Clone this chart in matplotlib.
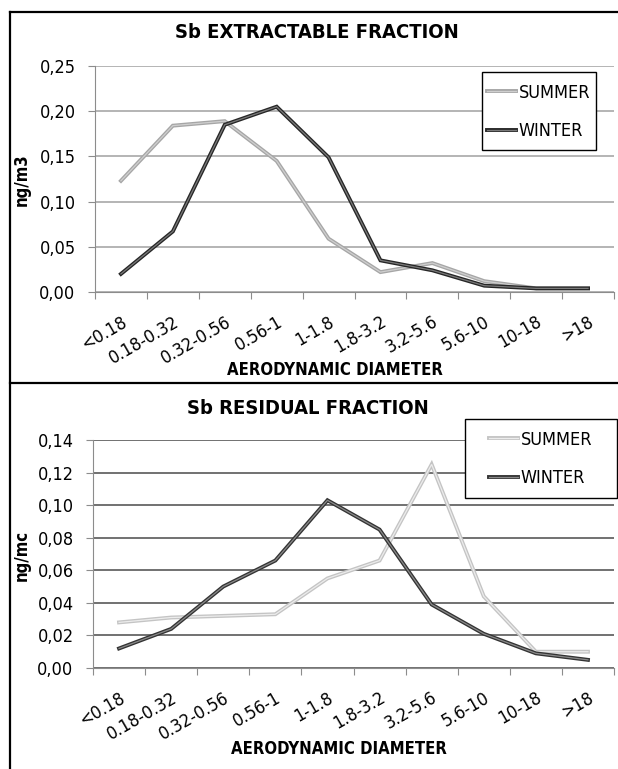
import matplotlib
matplotlib.use("Agg")
import matplotlib.pyplot as plt
import matplotlib.patheffects as pe
from matplotlib.lines import Line2D
from matplotlib.patches import Rectangle
from matplotlib.ticker import FuncFormatter, MultipleLocator

plt.rcParams['font.family'] = ['DejaVu Sans']
plt.rcParams['font.stretch'] = 'condensed'

# size classes (aerodynamic diameter, um)
categories = ['<0.18', '0.18-0.32', '0.32-0.56', '0.56-1', '1-1.8',
              '1.8-3.2', '3.2-5.6', '5.6-10', '10-18', '>18']

# Sb extractable fraction (ng/m3)
extr_summer = [0.123, 0.184, 0.189, 0.145, 0.059, 0.022, 0.032, 0.012, 0.004, 0.004]
extr_winter = [0.020, 0.067, 0.185, 0.205, 0.149, 0.035, 0.024, 0.007, 0.004, 0.004]

# Sb residual fraction (ng/mc)
res_summer = [0.028, 0.031, 0.032, 0.033, 0.055, 0.066, 0.125, 0.044, 0.010, 0.010]
res_winter = [0.012, 0.024, 0.050, 0.066, 0.103, 0.085, 0.039, 0.021, 0.009, 0.005]

W, H = 618, 769


def fx(px):
    return px / W


def fy(py):
    return 1 - py / H


def comma(v, pos):
    return ('%.2f' % v).replace('.', ',')


def draw_line(ax, values, outer, inner, label):
    x = [i + 0.5 for i in range(len(values))]
    ax.plot(x, values, color=inner, lw=0.9, label=label, solid_joinstyle='miter',
            path_effects=[pe.Stroke(linewidth=2.8, foreground=outer), pe.Normal()])


def setup_axes(ax, ymax, ystep, gridcolor):
    ax.set_xlim(0, len(categories))
    ax.set_ylim(0, ymax)
    ax.yaxis.set_major_locator(MultipleLocator(ystep))
    ax.yaxis.set_major_formatter(FuncFormatter(comma))
    ax.grid(axis='y', color=gridcolor, lw=1.1)
    ax.set_axisbelow(True)
    for s in ['top', 'right']:
        ax.spines[s].set_visible(False)
    ax.spines['left'].set_color('#8c8c8c')
    ax.spines['bottom'].set_color('#8c8c8c')
    ax.set_xticks(range(len(categories) + 1))
    ax.set_xticklabels([])
    ax.set_xticks([i + 0.5 for i in range(len(categories))], minor=True)
    ax.set_xticklabels(categories, minor=True, rotation=30, ha='right', va='top',
                       rotation_mode='anchor', fontsize=13)
    ax.tick_params(axis='x', which='major', length=5, color='#8c8c8c')
    ax.tick_params(axis='x', which='minor', length=0, pad=15)
    ax.tick_params(axis='y', length=5, color='#8c8c8c', pad=9, labelsize=13)


def add_legend(ax, box, x_left, y_center):
    # box = (left, top, right, bottom) in pixels
    l, t, r, b = box
    fig.add_artist(Rectangle((fx(l), fy(b)), (r - l) / W, (b - t) / H,
                             transform=fig.transFigure, facecolor='white',
                             edgecolor='black', lw=1.0, zorder=3))
    handles, labels = ax.get_legend_handles_labels()
    leg = fig.legend(handles, labels, loc='center left',
                     bbox_to_anchor=(fx(x_left), fy(y_center)),
                     frameon=False, fontsize=13, handlelength=1.6,
                     handletextpad=0.15, labelspacing=1.15,
                     borderpad=0, borderaxespad=0)
    leg.set_zorder(4)
    return leg


fig = plt.figure(figsize=(W / 100, H / 100), dpi=100)

# panel frames
for xs, ys in [([fx(10), 1], [fy(12), fy(12)]),
               ([fx(10), fx(10)], [fy(12), 0]),
               ([fx(10), 1], [fy(383), fy(383)])]:
    fig.add_artist(Line2D(xs, ys, transform=fig.transFigure, color='black', lw=1.6))

# top: extractable fraction
ax1 = fig.add_axes([fx(95), fy(292), (614 - 95) / W, (292 - 66) / H])
setup_axes(ax1, 0.25, 0.05, '#a0a0a0')
draw_line(ax1, extr_summer, '#a6a6a6', '#cfcfcf', 'SUMMER')
draw_line(ax1, extr_winter, '#262626', '#7a7a7a', 'WINTER')
add_legend(ax1, (482, 72, 596, 150), 487, 112)
fig.text(fx(317), fy(32), 'Sb EXTRACTABLE FRACTION', ha='center', va='center',
         fontsize=14.5, fontweight='bold')
fig.text(fx(335), fy(370), 'AERODYNAMIC DIAMETER', ha='center', va='center',
         fontsize=12, fontweight='bold')
fig.text(fx(22), fy(180), 'ng/m3', ha='center', va='center', rotation=90,
         fontsize=12, fontweight='bold')

# bottom: residual fraction
ax2 = fig.add_axes([fx(93), fy(668), (614 - 93) / W, (668 - 440) / H])
setup_axes(ax2, 0.14, 0.02, '#4a4a4a')
draw_line(ax2, res_summer, '#c4c4c4', '#ececec', 'SUMMER')
draw_line(ax2, res_winter, '#333333', '#8a8a8a', 'WINTER')
add_legend(ax2, (465, 419, 617, 498), 489, 459)
fig.text(fx(308), fy(409), 'Sb RESIDUAL FRACTION', ha='center', va='center',
         fontsize=14.5, fontweight='bold')
fig.text(fx(339), fy(749), 'AERODYNAMIC DIAMETER', ha='center', va='center',
         fontsize=12, fontweight='bold')
fig.text(fx(22), fy(555), 'ng/mc', ha='center', va='center', rotation=90,
         fontsize=12, fontweight='bold')

fig.savefig('out.png', dpi=100)
